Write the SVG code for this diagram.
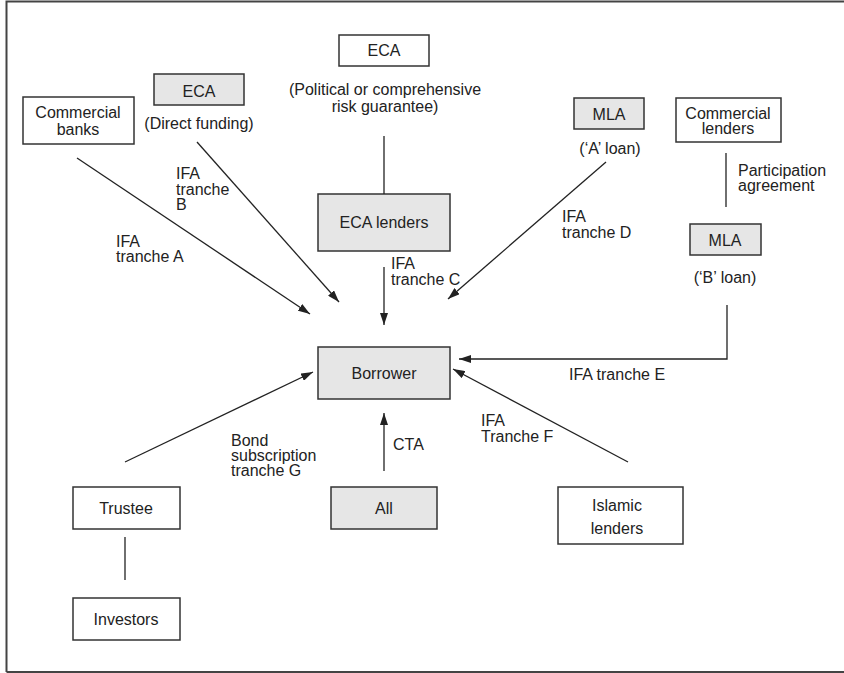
<svg xmlns="http://www.w3.org/2000/svg" width="844" height="673" viewBox="0 0 844 673">
<style>
text{font-family:"Liberation Sans",Arial,Helvetica,sans-serif;font-size:16px;fill:#222}
.c{text-anchor:middle}
.box{fill:#fff;stroke:#333;stroke-width:1.5}
.g{fill:#e6e6e6;stroke:#333;stroke-width:1.5}
.ln{stroke:#222;stroke-width:1.3;fill:none}
.ar{marker-end:url(#ah)}
</style>
<defs>
<marker id="ah" markerUnits="userSpaceOnUse" markerWidth="12" markerHeight="8" refX="12" refY="4" orient="auto">
<path d="M0,0 L12,4 L0,8 z" fill="#222"/>
</marker>
</defs>
<rect width="844" height="673" fill="#fff"/>
<path d="M6.5,672 V1.5 H844 M6.5,672 H844" stroke="#444" stroke-width="2" fill="none"/>

<g id="eca-top"><rect class="box" x="339" y="35" width="90" height="31"/><text class="c" x="384" y="56">ECA</text>
<text class="c" x="385" y="95">(Political or comprehensive</text><text class="c" x="385" y="112">risk guarantee)</text></g>
<g id="eca-direct"><rect class="g" x="154" y="74" width="90" height="31"/><text class="c" x="199" y="97">ECA</text>
<text class="c" x="199" y="129">(Direct funding)</text></g>
<g id="commercial-banks"><rect class="box" x="23" y="97" width="111" height="47"/><text class="c" x="78" y="118">Commercial</text><text class="c" x="78" y="135">banks</text></g>
<g id="eca-lenders"><rect class="g" x="318" y="194" width="132" height="57"/><text class="c" x="384" y="228">ECA lenders</text></g>
<g id="mla-a"><rect class="g" x="574" y="98" width="70" height="31"/><text class="c" x="609" y="120">MLA</text>
<text class="c" x="610" y="154">(‘A’ loan)</text></g>
<g id="commercial-lenders"><rect class="box" x="676" y="98" width="105" height="44"/><text class="c" x="728" y="119">Commercial</text><text class="c" x="728" y="134">lenders</text></g>
<g id="mla-b"><rect class="g" x="690" y="224" width="71" height="31"/><text class="c" x="725" y="246">MLA</text>
<text class="c" x="725" y="283">(‘B’ loan)</text></g>
<g id="borrower"><rect class="g" x="318" y="347" width="132" height="52"/><text class="c" x="384" y="379">Borrower</text></g>
<g id="trustee"><rect class="box" x="73" y="487" width="107" height="42"/><text class="c" x="126" y="514">Trustee</text></g>
<g id="all"><rect class="g" x="331" y="487" width="106" height="42"/><text class="c" x="384" y="514">All</text></g>
<g id="investors"><rect class="box" x="73" y="598" width="107" height="42"/><text class="c" x="126" y="625">Investors</text></g>
<g id="islamic-lenders"><rect class="box" x="558" y="487" width="125" height="57"/><text class="c" x="617" y="511">Islamic</text><text class="c" x="617" y="534">lenders</text></g>

<g id="connectors">
<line class="ln ar" x1="77" y1="158" x2="310" y2="314"/>
<line class="ln ar" x1="197" y1="142" x2="339" y2="302"/>
<line class="ln" x1="384" y1="136" x2="384" y2="194"/>
<line class="ln ar" x1="384" y1="267" x2="384" y2="325"/>
<line class="ln ar" x1="606" y1="162" x2="448" y2="299"/>
<line class="ln" x1="726" y1="153" x2="726" y2="207"/>
<polyline class="ln ar" points="727,305 727,359 459,359"/>
<line class="ln ar" x1="628" y1="462" x2="453" y2="369"/>
<line class="ln ar" x1="125" y1="462" x2="313" y2="372"/>
<line class="ln ar" x1="384" y1="471" x2="384" y2="413"/>
<line class="ln" x1="125" y1="537" x2="125" y2="580"/>
</g>

<g id="labels">
<text x="176" y="179">IFA</text><text x="176" y="195">tranche</text><text x="176" y="210">B</text>
<text x="116" y="247">IFA</text><text x="116" y="262">tranche A</text>
<text x="391" y="269">IFA</text><text x="391" y="285">tranche C</text>
<text x="562" y="222">IFA</text><text x="562" y="238">tranche D</text>
<text x="738" y="176">Participation</text><text x="738" y="191">agreement</text>
<text x="569" y="380">IFA tranche E</text>
<text x="481" y="426">IFA</text><text x="481" y="442">Tranche F</text>
<text x="231" y="446">Bond</text><text x="231" y="461">subscription</text><text x="231" y="476">tranche G</text>
<text x="393" y="450">CTA</text>
</g>
</svg>
